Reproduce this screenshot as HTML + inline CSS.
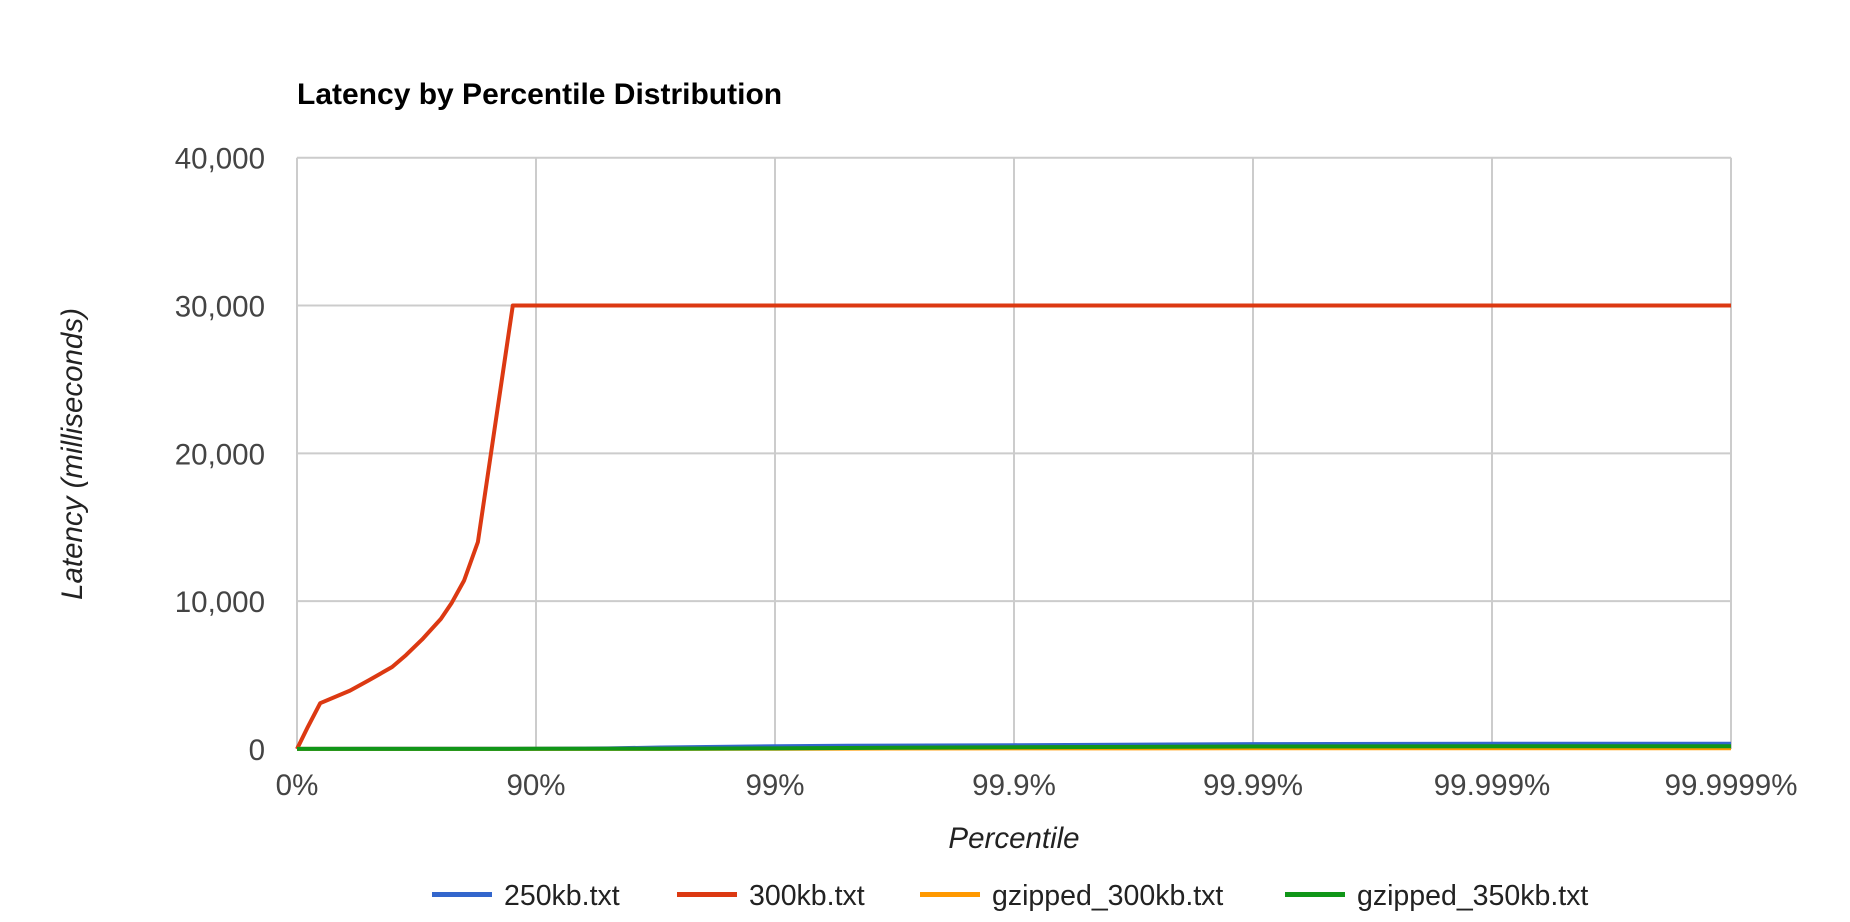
<!DOCTYPE html>
<html><head><meta charset="utf-8"><style>
html,body{margin:0;padding:0;background:#fff;}
svg{display:block;font-family:"Liberation Sans",Arial,sans-serif;}
</style></head><body>
<svg id="chart" width="1850" height="922" viewBox="0 0 1850 922" xmlns="http://www.w3.org/2000/svg">
<text x="297" y="104" font-size="30" font-weight="bold" fill="#000">Latency by Percentile Distribution</text>
<g id="grid"></g>
<g id="yticks"></g>
<g id="xticks"></g>
<line x1="297" y1="749" x2="1731" y2="749" stroke="#333" stroke-width="2"/>
<g id="series"></g>
<text transform="translate(82,454) rotate(-90)" text-anchor="middle" font-size="29.5" font-style="italic" fill="#222">Latency (milliseconds)</text>
<text x="1014" y="848" text-anchor="middle" font-size="29.5" font-style="italic" fill="#222">Percentile</text>
<g id="legend"></g>
</svg>
<script>
const yTicks = [0, 10000, 20000, 30000, 40000];
const yTickLabels = ["0", "10,000", "20,000", "30,000", "40,000"];
const xTickPct = [0, 90, 99, 99.9, 99.99, 99.999, 99.9999];
const xTickLabels = ["0%", "90%", "99%", "99.9%", "99.99%", "99.999%", "99.9999%"];
const seriesNames = ["250kb.txt", "300kb.txt", "gzipped_300kb.txt", "gzipped_350kb.txt"];
const seriesColors = ["#3366cc", "#dc3912", "#ff9900", "#109618"];
const redPct = [0, 10, 20, 40, 50, 60, 65, 70, 75, 77.5, 80, 82.5, 87.5, 90, 99, 99.9, 99.99, 99.999, 99.9999];
const redVals = [0, 1500, 3100, 3950, 4650, 5550, 6350, 7400, 8800, 9900, 11400, 14000, 30000, 30000, 30000, 30000, 30000, 30000, 30000];
const otherPct = [0, 50, 90, 95, 97, 99, 99.5, 99.9, 99.99, 99.999, 99.9999];
const blueVals = [10, 15, 20, 40, 100, 180, 220, 260, 330, 350, 360];
const orangeVals = [5, 5, 5, 5, 10, 20, 30, 40, 50, 50, 50];
const greenVals = [10, 10, 12, 15, 20, 40, 70, 120, 170, 180, 180];

const NS = "http://www.w3.org/2000/svg";
const L = 297, R = 1731, T = 157.7, B = 749;
function xs(p){ return L + (R - L) / 6 * (-Math.log10(1 - p / 100)); }
function ys(v){ return B - (B - T) * v / 40000; }
function mk(tag, attrs, parent){ const e = document.createElementNS(NS, tag); for (const k in attrs) e.setAttribute(k, attrs[k]); parent.appendChild(e); return e; }

const grid = document.getElementById('grid');
const yt = document.getElementById('yticks');
const xt = document.getElementById('xticks');
yTicks.forEach((v, i) => {
  const ln = mk('line', {x1: L, x2: R, y1: ys(v), y2: ys(v), stroke: '#ccc', 'stroke-width': 2}, grid);
  
  
  const t = mk('text', {x: 265, y: ys(v) + 11, 'text-anchor': 'end', 'font-size': 29.5, fill: '#444'}, yt);
  t.textContent = yTickLabels[i];
  
  
});
xTickPct.forEach((p, i) => {
  const ln = mk('line', {x1: xs(p), x2: xs(p), y1: T, y2: B, stroke: '#ccc', 'stroke-width': 2}, grid);
  
  
  const t = mk('text', {x: xs(p), y: 795, 'text-anchor': 'middle', 'font-size': 29.5, fill: '#444'}, xt);
  t.textContent = xTickLabels[i];
  
  
});

const series = document.getElementById('series');
function drawLine(pcts, vals, color, name){
  const d = pcts.map((p, i) => (i ? 'L' : 'M') + xs(p).toFixed(1) + ' ' + ys(vals[i]).toFixed(1)).join(' ');
  const path = mk('path', {d: d, fill: 'none', stroke: color, 'stroke-width': 4, 'stroke-linejoin': 'round'}, series);
  
  
}
drawLine(otherPct, blueVals, seriesColors[0], 'line-250kb');
drawLine(redPct, redVals, seriesColors[1], 'line-300kb');
drawLine(otherPct, orangeVals, seriesColors[2], 'line-gzipped-300kb');
drawLine(otherPct, greenVals, seriesColors[3], 'line-gzipped-350kb');

const legend = document.getElementById('legend');
const legX = [432, 677, 920, 1285];
seriesNames.forEach((n, i) => {
  const g = mk('g', {}, legend);
  
  
  mk('rect', {x: legX[i], y: 892, width: 60, height: 5, fill: seriesColors[i]}, g);
  const t = mk('text', {x: legX[i] + 72, y: 905, 'font-size': 28.5, fill: '#222'}, g);
  t.textContent = n;
});
</script>
</body></html>
